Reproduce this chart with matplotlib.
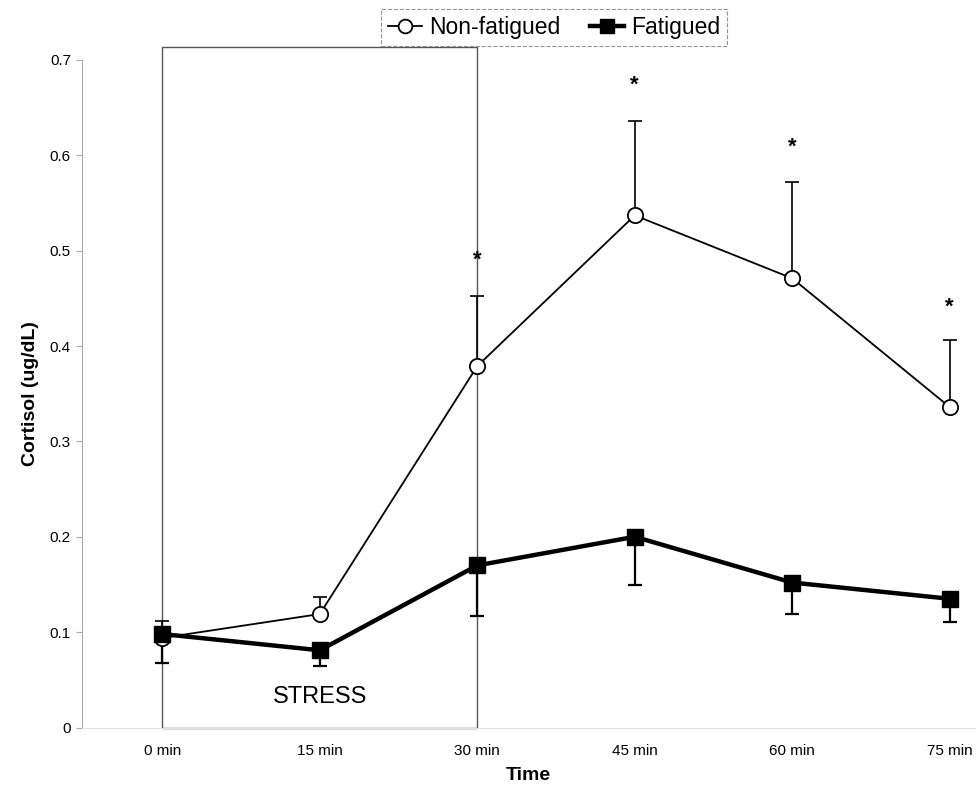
import matplotlib
matplotlib.use('Agg')
import matplotlib.pyplot as plt
from matplotlib.patches import Rectangle
import numpy as np

plt.rcParams['font.family'] = ['Liberation Sans', 'DejaVu Sans']

# data
time_labels = ['0 min', '15 min', '30 min', '45 min', '60 min', '75 min']
non_fatigued = [0.094, 0.119, 0.379, 0.537, 0.471, 0.336]
non_fatigued_err = [0.018, 0.018, 0.073, 0.099, 0.101, 0.070]   # upper bars only
fatigued = [0.098, 0.081, 0.170, 0.200, 0.152, 0.135]
fatigued_err = [0.030, 0.016, 0.053, 0.051, 0.033, 0.024]       # lower bars only
star_idx = [2, 3, 4, 5]
star_y = [0.49, 0.673, 0.609, 0.441]

x = np.arange(len(time_labels))

fig = plt.figure(figsize=(9.79, 7.9), dpi=100)
ax = fig.add_axes([0.0838, 0.0791, 0.912, 0.845])

# stress period box
ax.add_patch(Rectangle((0, 0), 2, 0.714, fill=False, edgecolor='#555555',
                       linewidth=1.0, clip_on=False, zorder=1))
ax.text(1, 0.032, 'STRESS', ha='center', va='center', fontsize=17)

# error bars (one-sided)
ax.errorbar(x, non_fatigued, yerr=[np.zeros(len(x)), non_fatigued_err],
            fmt='none', ecolor='black', elinewidth=1.2, capsize=5, capthick=1.2, zorder=2)
ax.errorbar(x, fatigued, yerr=[fatigued_err, np.zeros(len(x))],
            fmt='none', ecolor='black', elinewidth=1.6, capsize=5, capthick=1.6, zorder=2)

ax.plot(x, non_fatigued, '-o', color='black', lw=1.3, ms=11,
        markerfacecolor='white', markeredgewidth=1.3, label='Non-fatigued', zorder=3)
ax.plot(x, fatigued, '-s', color='black', lw=3.2, ms=11,
        label='Fatigued', zorder=4)

for i, yv in zip(star_idx, star_y):
    ax.text(x[i], yv, '*', ha='center', va='center', fontsize=16, fontweight='bold')

ax.set_xlim(-0.51, 5.16)
ax.set_ylim(0, 0.7)
ax.set_xticks(x)
ax.set_xticklabels(time_labels, fontsize=11)
ax.set_yticks(np.arange(0, 0.71, 0.1))
ax.set_yticklabels(['0'] + [f'{v:.1f}' for v in np.arange(0.1, 0.71, 0.1)], fontsize=11)
ax.tick_params(axis='x', length=0, pad=12)
ax.tick_params(axis='y', length=4, color='#aaaaaa', pad=4)

for s in ['top', 'right']:
    ax.spines[s].set_visible(False)
ax.spines['left'].set_color('#aaaaaa')
ax.spines['left'].set_linewidth(0.8)
ax.spines['bottom'].set_color('#e0e0e0')
ax.spines['bottom'].set_linewidth(0.8)

ax.set_xlabel('Time', fontsize=14, fontweight='bold', labelpad=6)
ax.set_ylabel('Cortisol (ug/dL)', fontsize=14, fontweight='bold', labelpad=8)

leg = fig.legend(loc='upper center', bbox_to_anchor=(0.566, 1.003), ncol=2, fontsize=16.5,
                 frameon=True, fancybox=False, handlelength=1.5, handletextpad=0.3,
                 columnspacing=1.3, borderpad=0.3, markerscale=0.9)
leg.get_frame().set_edgecolor('#777777')
leg.get_frame().set_linestyle('--')
leg.get_frame().set_linewidth(0.8)

plt.savefig('out.png', dpi=100)
